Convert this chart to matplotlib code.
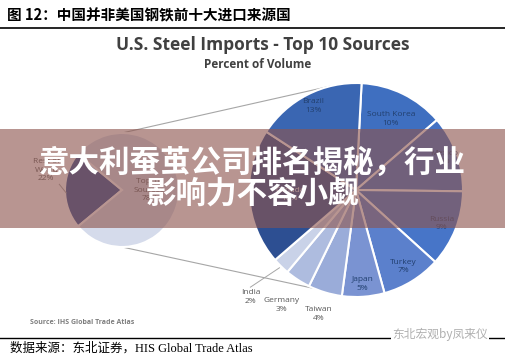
import numpy as np
import matplotlib.pyplot as plt
from matplotlib.patches import Rectangle

# data
countries = ['South Korea', 'Mexico', 'Russia', 'Turkey', 'Japan',
             'Taiwan', 'Germany', 'India', 'Canada', 'Brazil']
shares = [10, 9, 9, 7, 5, 4, 3, 2, 16, 13]
world_labels = ['Rest of\nWorld', 'Top 10\nSources']
world_shares = [22, 78]

colors = ['#3f6fc0', '#4472c4', '#4775c8', '#5b80cc', '#7a93d2',
          '#9aacd9', '#aebcdf', '#c9d2e8', '#2d4f92', '#3a66b2']
world_colors = ['#2f4e96', '#d5dbeb']
# label distance (in radii) and colour for each wedge
label_dist = [0.74, 0.88, 0.86, 0.84, 0.88, 1.21, 1.28, 1.40, 0.62, 0.88]
inside = '#22406f'
outside = '#595959'
label_col = [inside] * 5 + [outside] * 3 + ['white', inside]

W, H = 505, 356
fig = plt.figure(figsize=(W / 100, H / 100), dpi=100)
ax = fig.add_axes([0, 0, 1, 1])

def py(y):
    # pixel row -> data y
    return H - y

cjk = ['Noto Sans CJK SC', 'DejaVu Sans']
font = ['Open Sans', 'DejaVu Sans']

# main (right) pie
c2 = (356, py(190))
r2 = 107
wedges, _ = ax.pie(shares, colors=colors, startangle=87, counterclock=False,
                   center=c2, radius=r2,
                   wedgeprops=dict(edgecolor='white', linewidth=1.5))
for w, name, s, d, col in zip(wedges, countries, shares, label_dist, label_col):
    a = np.deg2rad((w.theta1 + w.theta2) / 2)
    ax.text(c2[0] + d * r2 * np.cos(a), c2[1] + d * r2 * np.sin(a),
            f'{name}\n{s}%', ha='center', va='center', fontsize=6,
            color=col, family=font, linespacing=1.3)

# small (left) pie
c1 = (122, py(190))
r1 = 57
half = world_shares[0] / sum(world_shares) * 180
wedges1, _ = ax.pie(world_shares, colors=world_colors, startangle=180 - half,
                    center=c1, radius=r1,
                    wedgeprops=dict(edgecolor='white', linewidth=1.5))
ax.text(c1[0] - 1.33 * r1, c1[1] + 0.35 * r1, f'{world_labels[0]}\n{world_shares[0]}%',
        ha='center', va='center', fontsize=6, color=outside, family=font,
        linespacing=1.3)
ax.plot([c1[0] - 1.1 * r1, c1[0] - 0.98 * r1], [c1[1] + 0.1 * r1, c1[1] - 0.05 * r1],
        color='#a6a6a6', lw=0.7)
ax.text(c1[0] + 0.48 * r1, c1[1], f'{world_labels[1]}\n{world_shares[1]}%',
        ha='center', va='center', fontsize=6, color=outside, family=font,
        linespacing=1.3)

# connector lines between the two pies
for a1, a2 in [(90, 104), (270, 247)]:
    t1, t2 = np.deg2rad(a1), np.deg2rad(a2)
    ax.plot([c1[0] + r1 * np.cos(t1), c2[0] + r2 * np.cos(t2)],
            [c1[1] + r1 * np.sin(t1), c2[1] + r2 * np.sin(t2)],
            color='#a6a6a6', lw=0.8, zorder=0.5)

# India leader line
ai = np.deg2rad((wedges[7].theta1 + wedges[7].theta2) / 2)
ax.plot([c2[0] + 1.02 * r2 * np.cos(ai), c2[0] + 1.3 * r2 * np.cos(ai) - 8],
        [c2[1] + 1.02 * r2 * np.sin(ai), c2[1] + 1.3 * r2 * np.sin(ai) + 2],
        color='#a6a6a6', lw=0.7)

ax.set_xlim(0, W)
ax.set_ylim(0, H)
ax.set_aspect('auto')
ax.axis('off')

# titles
fig.text(263 / W, 1 - 45 / H, 'U.S. Steel Imports - Top 10 Sources', ha='center',
         va='center', fontsize=12.5, fontweight='bold', color='#404040', family=font)
fig.text(258 / W, 1 - 65 / H, 'Percent of Volume', ha='center', va='center',
         fontsize=8.5, fontweight='bold', color='#404040', family=font)
fig.text(30 / W, 1 - 322 / H, 'Source: IHS Global Trade Atlas', ha='left', va='center',
         fontsize=5, fontweight='bold', color='#7f7f7f', family=font)

# report header / footer
fig.text(7 / W, 1 - 15 / H, '图 12：中国并非美国钢铁前十大进口来源国', ha='left',
         va='center', fontsize=10.5, fontweight='bold', color='black', family=cjk)
fig.add_artist(plt.Line2D([0, 1], [1 - 28 / H] * 2, color='black', lw=1.2))
fig.add_artist(plt.Line2D([0, 1], [1 - 338 / H] * 2, color='black', lw=1.0))
fig.text(10 / W, 1 - 348 / H, '数据来源：东北证券，HIS Global Trade Atlas', ha='left',
         va='center', fontsize=9, color='black',
         family=['Liberation Serif', 'Noto Sans CJK SC'])
fig.text(440 / W, 1 - 334 / H, '东北宏观by凤来仪', ha='center', va='center',
         fontsize=8.5, color='#b0b0b0', family=cjk,
         bbox=dict(facecolor='white', edgecolor='none', pad=1))

# overlay band with headline
fig.add_artist(Rectangle((0, 1 - 228 / H), 1, 99 / H, transform=fig.transFigure,
                         facecolor=(141 / 255, 85 / 255, 78 / 255), alpha=0.62,
                         edgecolor='none'))
fig.text(0.5, 1 - 163 / H, '意大利蚕茧公司排名揭秘，行业', ha='center', va='center',
         fontsize=22, fontweight='bold', color='white', family=cjk)
fig.text(0.5, 1 - 194 / H, '影响力不容小觑', ha='center', va='center',
         fontsize=22, fontweight='bold', color='white', family=cjk)

fig.savefig('out.png', dpi=100)
